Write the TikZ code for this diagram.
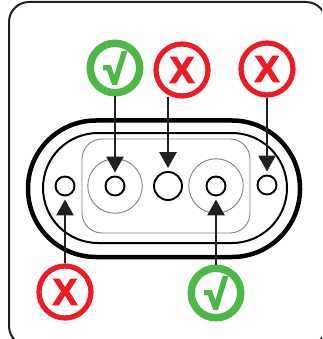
\documentclass[tikz,border=0pt]{standalone}
\usepackage{fontspec}
\setmainfont{Liberation Sans}
\newfontfamily\xfont[FakeBold=3]{Liberation Sans Bold}
\newfontfamily\checkfont[FakeBold=5]{Liberation Sans Bold}
\usetikzlibrary{arrows.meta}
\definecolor{okgreen}{HTML}{4DB848}
\definecolor{nored}{HTML}{ED1C24}
\definecolor{ink}{HTML}{231F20}
\tikzset{
  hole/.style={circle,draw=black,line width=1.9pt,fill=white,inner sep=0pt},
  halo/.style={circle,draw=black!50,line width=0.9pt,minimum size=54.5pt,inner sep=0pt},
  goodbadge/.style={circle,draw=okgreen,line width=7.5pt,fill=white,minimum size=49.5pt,inner sep=0pt,text=okgreen},
  badbadge/.style={circle,draw=nored,line width=5.2pt,fill=white,minimum size=52pt,inner sep=0pt,text=nored},
  pointer/.style={draw=ink,line width=2.8pt,shorten >=3pt,-{Triangle[length=16pt,width=17pt,fill=ink]}},
  xmark/.style={font=\fontsize{37}{37}\selectfont\xfont},
  vmark/.style={font=\fontsize{40}{40}\selectfont\checkfont},
}
\begin{document}
\begin{tikzpicture}[x=1pt,y=-1pt]
\useasboundingbox (0,0) rectangle (322,339);
\clip (0,0) rectangle (322,339);
\draw[line width=2pt,draw=ink,rounded corners=20pt] (9,2) rectangle (326,346);
\draw[line width=4.5pt,rounded corners=68pt] (28,120.5) rectangle (300,257);
\draw[line width=2pt,rounded corners=55pt] (43,133) rectangle (287,243);
\draw[line width=0.9pt,draw=black!50,rounded corners=20pt] (82,139) rectangle (250,233);
\node[halo] (h1) at (115,186) {};
\node[halo] (h2) at (216,186) {};
\node[hole,minimum size=19pt] (a) at (65,186) {};
\node[hole,minimum size=19pt] (b) at (115,186) {};
\node[hole,minimum size=28pt] (c) at (168,186) {};
\node[hole,minimum size=19pt] (d) at (216,186) {};
\node[hole,minimum size=19pt] (e) at (267,185) {};
\node[goodbadge,vmark] (g1) at (115,68) {√};
\node[badbadge,xmark] (r1) at (182,70) {X};
\node[badbadge,xmark] (r2) at (267,69) {X};
\node[badbadge,xmark] (r3) at (65,292) {X};
\node[goodbadge,vmark] (g2) at (216,293) {√};
\path[pointer] (g1.south) -- (b.north);
\path[pointer] (c.north |- 0,97) -- (c.north);
\path[pointer] (r2.south) -- (e.north);
\path[pointer] (r3.north) -- (a.south);
\path[pointer] (g2.north) -- (d.south);
\end{tikzpicture}
\end{document}
